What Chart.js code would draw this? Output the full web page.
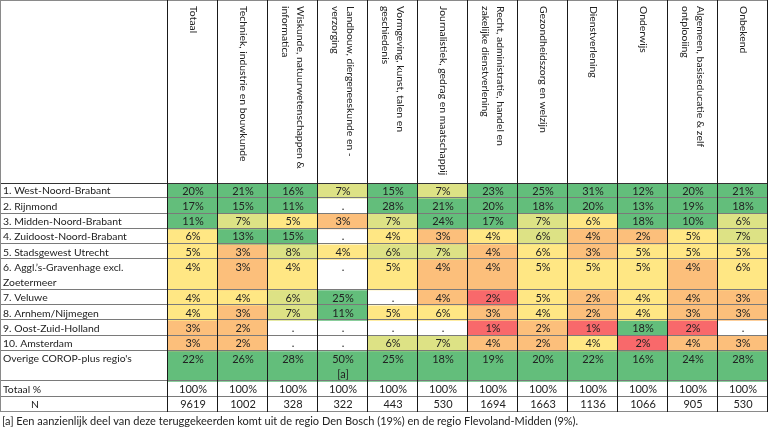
<!DOCTYPE html>
<html>
<head>
<meta charset="utf-8">
<script src="https://cdn.jsdelivr.net/npm/chart.js@4/dist/chart.umd.min.js"></script>
<style>
  body { margin: 0; background: #fff; }
  #wrap { width: 768px; height: 432px; }
</style>
</head>
<body>
<div id="wrap"><canvas id="tableChart"></canvas></div>
<script>
// column headers (each entry = wrapped lines)
const columnHeads = [
    ['Totaal'],
    ['Techniek, industrie en bouwkunde'],
    ['Wiskunde, natuurwetenschappen &', 'informatica'],
    ['Landbouw, diergeneeskunde en -', 'verzorging'],
    ['Vormgeving, kunst, talen en', 'geschiedenis'],
    ['Journalistiek, gedrag en maatschappij'],
    ['Recht, administratie, handel en', 'zakelijke dienstverlening'],
    ['Gezondheidszorg en welzijn'],
    ['Dienstverlening'],
    ['Onderwijs'],
    ['Algemeen, basiseducatie & zelf', 'ontplooiing'],
    ['Onbekend']
];

const rowLabels = [
    ['1. West-Noord-Brabant'],
    ['2. Rijnmond'],
    ['3. Midden-Noord-Brabant'],
    ['4. Zuidoost-Noord-Brabant'],
    ['5. Stadsgewest Utrecht'],
    ['6. Aggl.\u2019s-Gravenhage excl.', 'Zoetermeer'],
    ['7. Veluwe'],
    ['8. Arnhem/Nijmegen'],
    ['9. Oost-Zuid-Holland'],
    ['10. Amsterdam'],
    ["Overige COROP-plus regio's"],
    ['Totaal %'],
    ['N']
];

// percentages per region (null = '.')
const westNoordBrabant   = [20, 21, 16, 7, 15, 7, 23, 25, 31, 12, 20, 21];
const rijnmond           = [17, 15, 11, null, 28, 21, 20, 18, 20, 13, 19, 18];
const middenNoordBrabant = [11, 7, 5, 3, 7, 24, 17, 7, 6, 18, 10, 6];
const zuidoostNoordBrab  = [6, 13, 15, null, 4, 3, 4, 6, 4, 2, 5, 7];
const stadsgewestUtrecht = [5, 3, 8, 4, 6, 7, 4, 6, 3, 5, 5, 5];
const gravenhage         = [4, 3, 4, null, 5, 4, 4, 5, 5, 5, 4, 6];
const veluwe             = [4, 4, 6, 25, null, 4, 2, 5, 2, 4, 4, 3];
const arnhemNijmegen     = [4, 3, 7, 11, 5, 6, 3, 4, 2, 4, 3, 3];
const oostZuidHolland    = [3, 2, null, null, null, null, 1, 2, 1, 18, 2, null];
const amsterdam          = [3, 2, null, null, 6, 7, 4, 2, 4, 2, 4, 3];
const overige            = [22, 26, 28, 50, 25, 18, 19, 20, 22, 16, 24, 28];
const totaalPct          = [100, 100, 100, 100, 100, 100, 100, 100, 100, 100, 100, 100];
const aantalN            = [9619, 1002, 328, 322, 443, 530, 1694, 1663, 1136, 1066, 905, 530];

const tableRows = [westNoordBrabant, rijnmond, middenNoordBrabant, zuidoostNoordBrab,
    stadsgewestUtrecht, gravenhage, veluwe, arnhemNijmegen, oostZuidHolland, amsterdam,
    overige, totaalPct, aantalN];

const footnote = '[a] Een aanzienlijk deel van deze teruggekeerden komt uit de regio Den Bosch (19%) en de regio Flevoland-Midden (9%).';

// ---- layout / styling ----
const rowSpans = [1, 1, 1, 1, 1, 2, 1, 1, 1, 1, 2, 1, 1];
const shadeColors = { G: '#63be7b', L: '#dde285', Y: '#ffe784', O: '#fcbf7b', R: '#f8696b', W: '#ffffff' };
const cellShades = [
    'GGGLGLGGGGGG',
    'GGGWGGGGGGGG',
    'GLYOLGGLYGGL',
    'YGGWYOYLOOYL',
    'YOLYLLOYOYYY',
    'YOYWYOOYYYOY',
    'YYLGWORYOYOO',
    'YOLGYYOYOYOO',
    'OOWWWWRORGRW',
    'OOWWLLOOYROO',
    'GGGGGGGGGGGG',
    'WWWWWWWWWWWW',
    'WWWWWWWWWWWW'
];
const cellNotes = { '10,3': '[a]' };
const FONT = '11px Lato, "Open Sans", sans-serif';
const LABEL_FONT = '10.4px Lato, "Open Sans", sans-serif';
const TEXT = '#222';

function cellText(r, v) {
    if (v === null) return '.';
    return r === tableRows.length - 1 ? String(v) : v + '%';
}

const datasets = tableRows.map((vals, r) => ({
    label: rowLabels[r].join(' '),
    data: vals.map(() => rowSpans[r]),
    backgroundColor: cellShades[r].split('').map(k => shadeColors[k]),
    borderWidth: 0,
    barPercentage: 1,
    categoryPercentage: 1
}));

const tablePlugin = {
    id: 'tableText',
    beforeDraw(chart) {
        const ctx = chart.ctx;
        ctx.save();
        ctx.fillStyle = '#fff';
        ctx.fillRect(0, 0, chart.width, chart.height);
        ctx.restore();
    },
    afterDatasetsDraw(chart) {
        const { ctx, chartArea } = chart;
        const xs = chart.scales.x, ys = chart.scales.y;
        const colW = xs.width / columnHeads.length;
        const unit = ys.height / rowSpans.reduce((a, b) => a + b, 0);
        const lineH = 15;
        ctx.save();
        ctx.font = FONT;
        ctx.fillStyle = TEXT;

        // cell values
        tableRows.forEach((vals, r) => {
            const meta = chart.getDatasetMeta(r);
            meta.data.forEach((bar, c) => {
                const top = Math.min(bar.y, bar.base);
                ctx.textAlign = 'center';
                ctx.textBaseline = 'middle';
                ctx.fillText(cellText(r, vals[c]), bar.x, top + unit / 2 + 0.5);
                const note = cellNotes[r + ',' + c];
                if (note) ctx.fillText(note, bar.x, top + unit * 1.5 + 0.5);
            });
        });

        // row labels
        ctx.font = LABEL_FONT;
        let cum = 0;
        rowLabels.forEach((lines, r) => {
            const top = ys.getPixelForValue(cum);
            const last = r === rowLabels.length - 1;
            ctx.textAlign = last ? 'center' : 'left';
            ctx.textBaseline = 'middle';
            const lx = last ? 35 : 3;
            lines.forEach((t, k) => ctx.fillText(t, lx, top + unit / 2 + k * unit + 0.5));
            cum += rowSpans[r];
        });

        // column headers, rotated to read downwards
        columnHeads.forEach((lines, c) => {
            const cx = xs.getPixelForValue(c);
            const n = lines.length;
            lines.forEach((t, k) => {
                ctx.save();
                ctx.translate(cx + ((n - 1) / 2 - k) * lineH, 6);
                ctx.rotate(Math.PI / 2);
                ctx.textAlign = 'left';
                ctx.textBaseline = 'middle';
                ctx.fillText(t, 0, 0);
                ctx.restore();
            });
        });

        // horizontal rules
        ctx.lineWidth = 1;
        ctx.strokeStyle = '#7a7a7a';
        cum = 0;
        rowSpans.forEach(s => {
            cum += s;
            const py = Math.round(ys.getPixelForValue(cum)) - 0.5;
            ctx.beginPath();
            ctx.moveTo(0, py);
            ctx.lineTo(chartArea.right, py);
            ctx.stroke();
        });
        ctx.strokeStyle = '#333';
        const hy = Math.round(chartArea.top) + 0.5;
        ctx.beginPath();
        ctx.moveTo(0, hy);
        ctx.lineTo(chartArea.right, hy);
        ctx.stroke();
        ctx.strokeStyle = '#8a8a8a';
        ctx.strokeRect(0.5, 0.5, chartArea.right - 1, chartArea.bottom - 1);

        // vertical rules
        ctx.strokeStyle = '#1a1a1a';
        for (let c = 0; c <= columnHeads.length; c++) {
            const px = Math.round(chartArea.left + c * colW) - 0.5;
            ctx.beginPath();
            ctx.moveTo(px, 0);
            ctx.lineTo(px, chartArea.bottom);
            ctx.stroke();
        }

        // footnote
        ctx.font = FONT;
        ctx.textAlign = 'left';
        ctx.textBaseline = 'middle';
        ctx.fillStyle = TEXT;
        ctx.fillText(footnote, 2, chartArea.bottom + 9);
        ctx.restore();
    }
};

new Chart(document.getElementById('tableChart'), {
    type: 'bar',
    data: { labels: columnHeads.map(l => l.join(' ')), datasets: datasets },
    options: {
        responsive: true,
        maintainAspectRatio: false,
        animation: false,
        layout: { padding: { left: 168, top: 183, right: 0, bottom: 20 } },
        scales: {
            x: { stacked: true, display: false, offset: true },
            y: { stacked: true, display: false, reverse: true, min: 0, max: 15 }
        },
        plugins: { legend: { display: false }, tooltip: { enabled: false } }
    },
    plugins: [tablePlugin]
});
</script>
</body>
</html>
